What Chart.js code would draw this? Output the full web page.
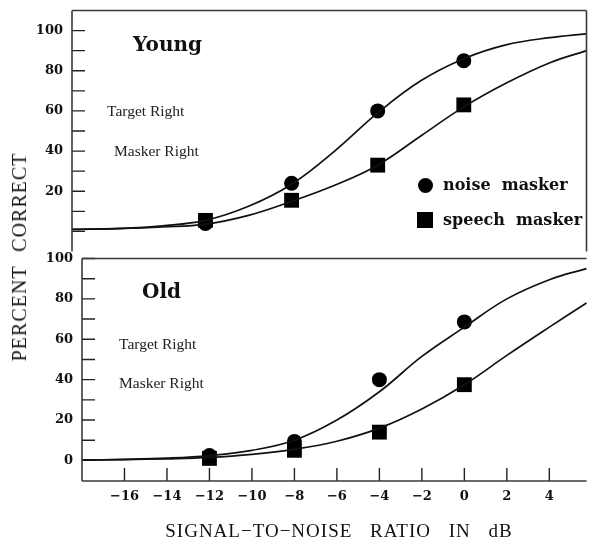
<!DOCTYPE html>
<html>
<head>
<meta charset="utf-8">
<script src="https://cdn.jsdelivr.net/npm/chart.js@4.4.1/dist/chart.umd.min.js"></script>
<style>
  body { margin: 0; background: #fff; }
  #page { position: relative; width: 597px; height: 544px; overflow: hidden; background: #fff; }
  canvas { position: absolute; left: 0; }
  .t { position: absolute; line-height: 1; white-space: pre; color: #111; transform: translateY(-50%); }
  .bold { font-family: "DejaVu Serif", serif; font-weight: bold; }
  .note { font-family: "Liberation Serif", serif; font-size: 15.5px; color: #222; }
  .mark { position: absolute; background: #000; }
</style>
</head>
<body>
<div id="page">
  <canvas id="young" width="597" height="262" style="top:0"></canvas>
  <canvas id="old" width="597" height="296" style="top:248px"></canvas>

  <div class="t bold" style="left:133px;top:43.5px;font-size:20px">Young</div>
  <div class="t note" style="left:107px;top:111px">Target Right</div>
  <div class="t note" style="left:114px;top:150.5px">Masker Right</div>

  <div class="t bold" style="left:142px;top:290.5px;font-size:20px">Old</div>
  <div class="t note" style="left:119px;top:343.5px">Target Right</div>
  <div class="t note" style="left:119px;top:383px">Masker Right</div>

  <div class="mark" style="left:417.5px;top:177.5px;width:15px;height:15px;border-radius:50%"></div>
  <div class="t bold" style="left:443px;top:185px;font-size:16px">noise  masker</div>
  <div class="mark" style="left:417px;top:212px;width:16px;height:16px"></div>
  <div class="t bold" style="left:443px;top:220px;font-size:16px">speech  masker</div>

  <div style="position:absolute;left:18.5px;top:257px;transform:translate(-50%,-50%) rotate(-90deg);white-space:pre;font-family:'Liberation Serif',serif;font-size:20px;letter-spacing:1px;word-spacing:8px;line-height:1;color:#111">PERCENT CORRECT</div>
  <div style="position:absolute;left:339px;top:530px;transform:translate(-50%,-50%);white-space:pre;font-family:'Liberation Serif',serif;font-size:19px;letter-spacing:1px;word-spacing:12px;line-height:1;color:#111">SIGNAL−TO−NOISE RATIO IN dB</div>
</div>

<script>
// axis ticks
const snrTicks = [-16, -14, -12, -10, -8, -6, -4, -2, 0, 2, 4];
const pctTicks = [0, 10, 20, 30, 40, 50, 60, 70, 80, 90, 100];
const youngPctLabels = [20, 40, 60, 80, 100];
const oldPctLabels = [0, 20, 40, 60, 80, 100];

// measured percent correct
const snrPoints = [-12, -8, -4, 0];
const youngNoise = [4, 24, 60, 85];
const youngSpeech = [5.5, 15.5, 33, 63];
const oldNoise = [2.4, 9.4, 40, 68.6];
const oldSpeech = [1, 5, 14, 37.5];

// fitted curves
const youngFitSnr = [-18.2, -16, -14, -12, -10, -8, -6, -4, -2, 0, 2, 4, 5.7];
const youngNoiseFit = [1, 1.5, 2.8, 5.5, 12.5, 23.5, 40, 59, 75, 86, 93, 96.5, 98.4];
const youngSpeechFit = [1, 1.4, 2.2, 3.6, 8, 15, 23, 33, 47.5, 62, 74, 84, 90];
const oldFitSnr = [-18, -16, -14, -12, -10, -8, -6, -4, -2, 0, 2, 4, 5.75];
const oldNoiseFit = [0.2, 0.5, 1.1, 2.4, 5, 10, 20, 34, 51.5, 66, 80, 89.5, 95];
const oldSpeechFit = [0.2, 0.4, 0.8, 1.5, 3, 5.5, 9.5, 16, 25.5, 37.5, 52, 66, 78];

const frame = {
    id: "frame",
    afterDraw(chart, args, opts) {
        const { left, right, top, bottom } = chart.chartArea;
        const ctx = chart.ctx;
        ctx.save();
        ctx.strokeStyle = "#3a3a3a";
        ctx.lineWidth = 1.6;
        ctx.beginPath();
        if (opts.sides.includes("top")) { ctx.moveTo(left, top); ctx.lineTo(right, top); }
        if (opts.sides.includes("bottom")) { ctx.moveTo(left, bottom); ctx.lineTo(right, bottom); }
        if (opts.sides.includes("left")) { ctx.moveTo(left, top); ctx.lineTo(left, bottom); }
        if (opts.sides.includes("right")) { ctx.moveTo(right, top); ctx.lineTo(right, bottom); }
        ctx.stroke();
        ctx.restore();
    }
};

// tick marks pointing into the plot
const innerTicks = {
    id: "innerTicks",
    beforeDatasetsDraw(chart, args, opts) {
        const { left, bottom } = chart.chartArea;
        const ctx = chart.ctx;
        ctx.save();
        ctx.strokeStyle = "#222";
        ctx.lineWidth = 1.4;
        ctx.beginPath();
        for (let t of chart.scales.y.ticks) {
            const py = chart.scales.y.getPixelForValue(t.value);
            ctx.moveTo(left, py);
            ctx.lineTo(left + 13, py);
        }
        if (opts.x) {
            for (let t of chart.scales.x.ticks) {
                const px = chart.scales.x.getPixelForValue(t.value);
                ctx.moveTo(px, bottom);
                ctx.lineTo(px, bottom - 13);
            }
        }
        ctx.stroke();
        ctx.restore();
    }
};

function curve(xs, ys) {
    return {
        data: xs.map((x, i) => ({ x: x, y: ys[i] })),
        showLine: true,
        pointRadius: 0,
        borderColor: "#111",
        borderWidth: 1.7,
        tension: 0.4,
        clip: false
    };
}

function marks(xs, ys, style, radius) {
    return {
        data: xs.map((x, i) => ({ x: x, y: ys[i] })),
        showLine: false,
        pointStyle: style,
        pointRadius: radius,
        backgroundColor: "#000",
        borderColor: "#000",
        borderWidth: 0,
        clip: false
    };
}

const tickFont = { family: "DejaVu Serif", weight: "bold", size: 13 };

function noPadding(s) {
    s.paddingTop = 0;
    s.paddingBottom = 0;
    s.paddingLeft = 0;
    s.paddingRight = 0;
}

// nudge the layout padding until the plot box sits where the figure has it
function pinArea(chart, padding, target) {
    for (let i = 0; i < 3; i++) {
        const a = chart.chartArea;
        padding.top += target.top - a.top;
        padding.bottom += a.bottom - target.bottom;
        padding.left += target.left - a.left;
        padding.right += a.right - target.right;
        chart.update();
    }
}

function drawPanel(canvasId, cfg) {
    const chart = new Chart(document.getElementById(canvasId), {
        type: "scatter",
        data: {
            datasets: [
                curve(cfg.fitSnr, cfg.noiseFit),
                curve(cfg.fitSnr, cfg.speechFit),
                marks(snrPoints, cfg.noise, "circle", 7.5),
                marks(snrPoints, cfg.speech, "rect", 10.5)
            ]
        },
        options: {
            responsive: false,
            animation: false,
            layout: { padding: cfg.padding },
            plugins: {
                legend: { display: false },
                tooltip: { enabled: false },
                frame: { sides: cfg.sides },
                innerTicks: { x: cfg.showX }
            },
            scales: {
                x: {
                    type: "linear",
                    min: cfg.xMin,
                    max: cfg.xMax,
                    display: cfg.showX,
                    afterBuildTicks: (s) => { s.ticks = snrTicks.map(v => ({ value: v })); },
                    afterFit: (s) => { s.height = cfg.xHeight; noPadding(s); },
                    grid: { display: false, drawTicks: false },
                    border: { display: false },
                    ticks: {
                        padding: 8,
                        autoSkip: false,
                        maxRotation: 0,
                        color: "#111",
                        font: tickFont,
                        callback: (v) => v < 0 ? "\u2212" + (-v) : String(v)
                    }
                },
                y: {
                    type: "linear",
                    min: cfg.yMin,
                    max: cfg.yMax,
                    afterBuildTicks: (s) => { s.ticks = pctTicks.map(v => ({ value: v })); },
                    afterFit: (s) => { s.width = cfg.yWidth; noPadding(s); },
                    grid: { display: false, drawTicks: false },
                    border: { display: false },
                    ticks: {
                        padding: 9,
                        autoSkip: false,
                        color: "#111",
                        font: tickFont,
                        callback: (v) => cfg.labels.includes(v) ? String(v) : ""
                    }
                }
            }
        },
        plugins: [frame, innerTicks]
    });
    pinArea(chart, cfg.padding, cfg.area);
    return chart;
}

drawPanel("young", {
    fitSnr: youngFitSnr, noiseFit: youngNoiseFit, speechFit: youngSpeechFit,
    noise: youngNoise, speech: youngSpeech,
    labels: youngPctLabels,
    xMin: -18.2, xMax: 5.7, yMin: -10, yMax: 110,
    showX: false, xHeight: 0, yWidth: 72,
    padding: { top: 10, right: 8, bottom: 7, left: 0 },
    area: { left: 72, right: 589, top: 10, bottom: 255 },
    sides: ["top", "left", "right"]
});

drawPanel("old", {
    fitSnr: oldFitSnr, noiseFit: oldNoiseFit, speechFit: oldSpeechFit,
    noise: oldNoise, speech: oldSpeech,
    labels: oldPctLabels,
    xMin: -18, xMax: 5.75, yMin: -10.2, yMax: 100,
    showX: true, xHeight: 63, yWidth: 82,
    padding: { top: 7, right: 1, bottom: 0, left: 0 },
    area: { left: 82, right: 596, top: 7, bottom: 233 },
    sides: ["top", "left", "bottom"]
});
</script>
</body>
</html>
